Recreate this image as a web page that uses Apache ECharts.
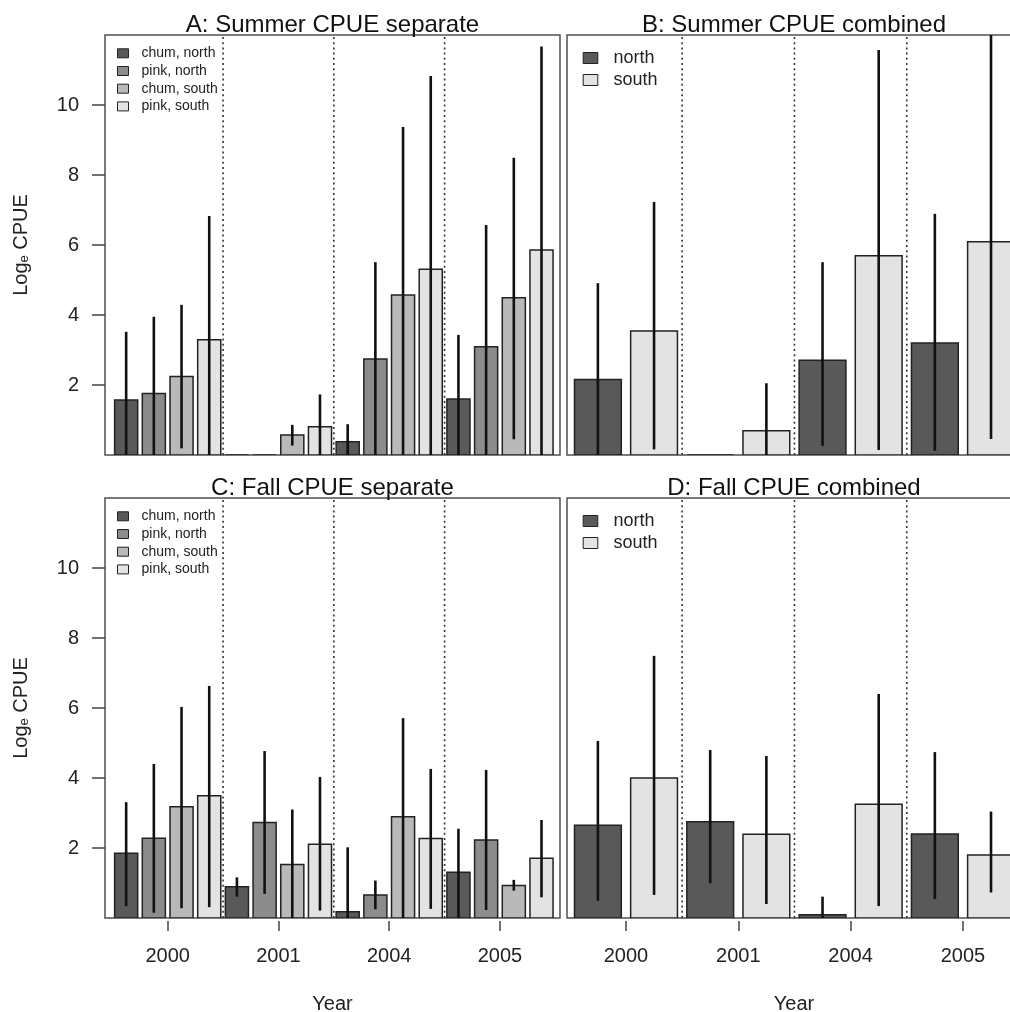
<!DOCTYPE html>
<html><head><meta charset="utf-8">
<script src="https://cdn.jsdelivr.net/npm/echarts@6/dist/echarts.min.js"></script>
<style>html,body{margin:0;padding:0;background:#fff}#c{width:1010px;height:1012px}</style>
</head><body><div id="c"></div>
<script>
// ---------- DATA ----------
const years = ['2000', '2001', '2004', '2005'];
const sepNames = ['chum, north', 'pink, north', 'chum, south', 'pink, south'];
const combNames = ['north', 'south'];
const yTicks = [2, 4, 6, 8, 10];
const separators = [0.5, 1.5, 2.5];

// A: Summer CPUE separate (rows = chum N, pink N, chum S, pink S; cols = years)
const aMean = [[1.57, 0, 0.38, 1.60], [1.76, 0, 2.74, 3.09], [2.24, 0.57, 4.57, 4.49], [3.29, 0.81, 5.31, 5.86]];
const aLow  = [[0, 0, 0, 0], [0, 0, 0, 0], [0.19, 0.27, 0, 0.45], [0, 0, 0, 0]];
const aHigh = [[3.52, 0, 0.88, 3.43], [3.95, 0, 5.51, 6.57], [4.29, 0.86, 9.37, 8.49], [6.83, 1.73, 10.83, 11.67]];

// B: Summer CPUE combined (rows = north, south)
const bMean = [[2.16, 0, 2.71, 3.20], [3.54, 0.69, 5.69, 6.09]];
const bLow  = [[0, 0, 0.26, 0.12], [0.16, 0, 0.14, 0.46]];
const bHigh = [[4.91, 0, 5.51, 6.89], [7.23, 2.05, 11.57, 12.6]];

// C: Fall CPUE separate
const cMean = [[1.85, 0.89, 0.18, 1.31], [2.28, 2.73, 0.66, 2.23], [3.18, 1.53, 2.89, 0.93], [3.49, 2.11, 2.27, 1.71]];
const cLow  = [[0.34, 0.61, 0, 0], [0.15, 0.69, 0.25, 0.23], [0.28, 0, 0, 0.78], [0.31, 0.21, 0.26, 0.59]];
const cHigh = [[3.31, 1.16, 2.02, 2.55], [4.40, 4.77, 1.07, 4.23], [6.03, 3.10, 5.71, 1.09], [6.63, 4.03, 4.26, 2.80]];

// D: Fall CPUE combined
const dMean = [[2.65, 2.75, 0.09, 2.40], [4.00, 2.39, 3.25, 1.80]];
const dLow  = [[0.49, 0.99, 0, 0.54], [0.66, 0.40, 0.34, 0.73]];
const dHigh = [[5.06, 4.80, 0.61, 4.74], [7.49, 4.63, 6.40, 3.04]];

// ---------- STYLE / LAYOUT ----------
const FONT = '"Liberation Sans", Arial, Helvetica, sans-serif';
const sepColors = ['#595959', '#8c8c8c', '#b9b9b9', '#e3e3e3'];
const combColors = ['#595959', '#e3e3e3'];
const YMAX = 12;

const panels = [
  {title: 'A: Summer CPUE separate', names: sepNames, colors: sepColors, mean: aMean, low: aLow, high: aHigh,
   left: 105, top: 35, width: 455, xmin: -0.566, xmax: 3.542, yAx: true, xAx: false, small: true},
  {title: 'B: Summer CPUE combined', names: combNames, colors: combColors, mean: bMean, low: bLow, high: bHigh,
   left: 567, top: 35, width: 454, xmin: -0.525, xmax: 3.517, yAx: false, xAx: false, small: false},
  {title: 'C: Fall CPUE separate', names: sepNames, colors: sepColors, mean: cMean, low: cLow, high: cHigh,
   left: 105, top: 498, width: 455, xmin: -0.566, xmax: 3.542, yAx: true, xAx: true, small: true},
  {title: 'D: Fall CPUE combined', names: combNames, colors: combColors, mean: dMean, low: dLow, high: dHigh,
   left: 567, top: 498, width: 454, xmin: -0.525, xmax: 3.517, yAx: false, xAx: true, small: false}
];

const grid = [], xAxis = [], yAxis = [], series = [], title = [], legend = [];

panels.forEach((p, i) => {
  const h = 420;
  const dy = p.top - 35;
  grid.push({left: p.left, top: p.top, width: p.width, height: h, show: true, outerBoundsMode: 'none',
    containLabel: false, borderColor: '#505050', borderWidth: 1.5, backgroundColor: 'transparent'});
  xAxis.push({type: 'value', gridIndex: i, min: p.xmin, max: p.xmax, offset: 3,
    axisLine: {show: false, onZero: false}, splitLine: {show: false},
    axisTick: {show: p.xAx, customValues: [0, 1, 2, 3], length: 10, lineStyle: {color: '#444', width: 1.5}},
    axisLabel: {show: p.xAx, customValues: [0, 1, 2, 3], formatter: v => years[Math.round(v)],
      fontSize: 20, color: '#222', margin: 25, fontFamily: FONT},
    name: p.xAx ? 'Year' : '', nameLocation: 'middle', nameGap: 73,
    nameTextStyle: {fontSize: 20, color: '#222', fontFamily: FONT}});
  yAxis.push({type: 'value', gridIndex: i, min: 0, max: YMAX,
    axisLine: {show: false, onZero: false}, splitLine: {show: false},
    axisTick: {show: p.yAx, customValues: yTicks, length: 13, lineStyle: {color: '#444', width: 1.5}},
    axisLabel: {show: p.yAx, customValues: yTicks, fontSize: 20, color: '#222', margin: 26, fontFamily: FONT},
    name: p.yAx ? '{a|Log}{b|e}{a| CPUE}' : '', nameLocation: 'middle', nameGap: 74, nameRotate: 90,
    nameTextStyle: {rich: {a: {fontSize: 20, color: '#222', fontFamily: FONT},
                           b: {fontSize: 13, color: '#222', fontFamily: FONT, verticalAlign: 'bottom'}}}});
  title.push({text: p.title, left: p.left + p.width / 2, top: 13.5 + dy, textAlign: 'center', padding: 0,
    textStyle: {fontSize: 24, fontWeight: 'normal', color: '#111', fontFamily: FONT}});

  // dotted separators between year groups
  series.push({type: 'custom', name: 'sep' + i, xAxisIndex: i, yAxisIndex: i, silent: true, z: 1,
    data: separators.map(v => [v]),
    renderItem: (params, api) => {
      const a = api.coord([api.value(0), 0]), b = api.coord([api.value(0), YMAX]);
      return {type: 'line', shape: {x1: a[0], y1: a[1], x2: b[0], y2: b[1]},
        style: {stroke: '#333', lineWidth: 1.6, lineDash: [2, 3.2]}};
    }});

  const n = p.names.length;
  const pitch = 1 / n, bw = pitch / 1.2;
  p.names.forEach((name, k) => {
    const off = (k - (n - 1) / 2) * pitch;
    const color = p.colors[k];
    series.push({type: 'custom', name, xAxisIndex: i, yAxisIndex: i, z: 2, clip: true,
      itemStyle: {color},
      encode: {x: 0, y: 1},
      data: years.map((y, j) => [j + off, p.mean[k][j], p.low[k][j], p.high[k][j]]),
      renderItem: (params, api) => {
        const x = api.value(0), m = api.value(1), lo = api.value(2), hi = api.value(3);
        const p0 = api.coord([x - bw / 2, m]), p1 = api.coord([x + bw / 2, 0]);
        const children = [{type: 'rect',
          shape: {x: p0[0], y: p0[1], width: p1[0] - p0[0], height: p1[1] - p0[1]},
          style: {fill: color, stroke: '#222', lineWidth: 1.5}}];
        if (hi > lo) {
          const a = api.coord([x, lo]), b = api.coord([x, Math.min(hi, YMAX)]);
          children.push({type: 'line', shape: {x1: a[0], y1: a[1], x2: b[0], y2: b[1]},
            style: {stroke: '#111', lineWidth: 2.6}});
        }
        return {type: 'group', children};
      }});
  });

  legend.push(p.small ? {
    orient: 'vertical', left: 117, top: 46.3 + dy, padding: 0, itemGap: 3.7,
    itemWidth: 11, itemHeight: 9, selectedMode: false, icon: 'rect',
    textStyle: {fontSize: 14, lineHeight: 14, color: '#222', fontFamily: FONT, padding: [0, 0, 0, 8]},
    data: p.names.map((nm, k) => ({name: nm, itemStyle: {color: p.colors[k], borderColor: '#222', borderWidth: 1}}))
  } : {
    orient: 'vertical', left: 582.7, top: 49 + dy, padding: 0, itemGap: 4,
    itemWidth: 14.6, itemHeight: 11, selectedMode: false, icon: 'rect',
    textStyle: {fontSize: 18, lineHeight: 18, color: '#222', fontFamily: FONT, padding: [0, 0, 0, 10.7]},
    data: p.names.map((nm, k) => ({name: nm, itemStyle: {color: p.colors[k], borderColor: '#222', borderWidth: 1}}))
  });
});

const chart = echarts.init(document.getElementById('c'), null, {renderer: 'canvas'});
chart.setOption({animation: false, backgroundColor: '#fff', title, legend, grid, xAxis, yAxis, series});
</script>
</body></html>
